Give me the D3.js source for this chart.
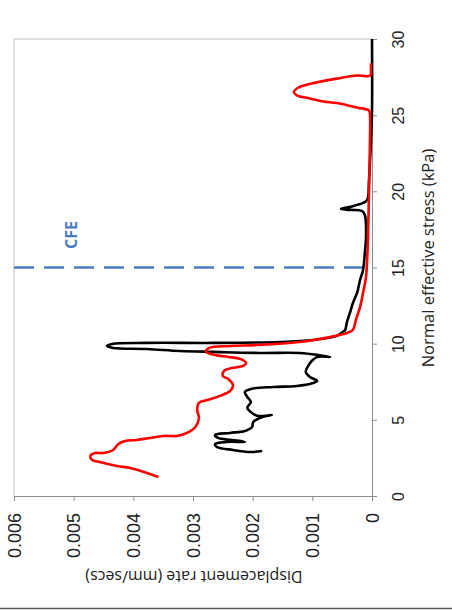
<!DOCTYPE html>
<html>
<head>
<meta charset="utf-8">
<script src="https://cdn.jsdelivr.net/npm/d3@7"></script>
<style>
  body { margin: 0; background: #fff; }
  svg { font-family: "Open Sans", "DejaVu Sans", sans-serif; }
</style>
</head>
<body>
<script>
// chart is drawn turned on its side: stress runs up the right edge, rate runs right-to-left along the bottom
var redStress = [1.25, 1.51, 1.84, 1.97, 2.23, 2.36, 2.63, 2.82, 2.82, 3.02, 3.41, 3.61, 3.68, 3.81, 3.94, 3.94,
  4.14, 4.53, 5.12, 5.65, 6.11, 6.30, 6.57, 6.89, 7.29, 7.68, 7.88, 8.21, 8.40, 8.54, 8.73, 9.00, 9.13, 9.26,
  9.46, 9.72, 9.85, 9.91, 10.11, 10.44, 10.70, 10.90, 11.56, 12.41, 13.33, 14.38, 15.30, 17.0, 20.0, 23.4,
  25.0, 25.3, 25.5, 25.8, 25.9, 26.1, 26.3, 26.5, 26.8, 27.1, 27.4, 27.6, 27.6, 27.97, 28.4];
var redRate = [3.58, 3.77, 4.05, 4.27, 4.56, 4.69, 4.72, 4.64, 4.51, 4.34, 4.25, 4.14, 3.94, 3.72, 3.50, 3.27,
  3.10, 2.96, 2.90, 2.93, 2.90, 2.76, 2.55, 2.38, 2.33, 2.41, 2.50, 2.48, 2.35, 2.16, 2.11, 2.21, 2.41, 2.63,
  2.78, 2.73, 2.38, 1.93, 1.21, 0.70, 0.42, 0.32, 0.27, 0.20, 0.15, 0.10, 0.084, 0.067, 0.05, 0.034,
  0.034, 0.05, 0.25, 0.59, 0.82, 1.04, 1.26, 1.31, 1.24, 0.99, 0.59, 0.25, 0.03, 0.017, 0.017];

var blackStress = [2.95, 2.89, 3.02, 3.22, 3.41, 3.55, 3.55, 3.68, 3.81, 4.01, 4.14, 4.27, 4.53, 4.86, 5.19,
  5.32, 5.25, 5.45, 5.78, 6.17, 6.50, 6.83, 7.03, 7.16, 7.22, 7.42, 7.55, 7.81, 8.14, 8.54, 8.86, 9.13, 9.13,
  9.26, 9.39, 9.39, 9.46, 9.52, 9.65, 9.72, 9.85, 9.98, 10.05, 10.05, 10.11, 10.24, 10.51, 10.77, 10.90, 11.42,
  12.02, 12.67, 13.33, 14.18, 14.84, 15.96, 17.0, 18.45, 18.71, 18.78, 18.84, 18.98, 19.24, 19.44, 20.75,
  23.4, 25.3, 30.0];
var blackRate = [1.84, 2.04, 2.33, 2.60, 2.63, 2.43, 2.13, 2.35, 2.58, 2.63, 2.38, 2.13, 2.01, 1.99, 1.84,
  1.68, 1.91, 2.01, 2.09, 2.03, 2.09, 2.13, 2.03, 1.66, 1.26, 0.99, 0.92, 1.04, 1.11, 1.07, 1.01, 0.92, 0.70,
  0.90, 1.21, 1.88, 2.66, 3.22, 3.77, 4.34, 4.44, 4.36, 3.77, 2.66, 1.54, 0.99, 0.59, 0.49, 0.45, 0.42,
  0.37, 0.32, 0.25, 0.20, 0.15, 0.12, 0.10, 0.12, 0.17, 0.37, 0.52, 0.37, 0.15, 0.08, 0.05,
  0.017, 0, 0];

var rateTicks = [0, 0.001, 0.002, 0.003, 0.004, 0.005, 0.006];
var stressTicks = [0, 5, 10, 15, 20, 25, 30];
var cfeStress = 15;

// rates above are in units of 0.001 mm/s
function pairs(s, r) { return s.map(function(d, i){ return {s: d, r: r[i] / 1000}; }); }

var W = 452, H = 611;
var plotL = 14, plotR = 372, plotT = 39, plotB = 496;

var svg = d3.select('body').append('svg').attr('width', W).attr('height', H);

var x = d3.scaleLinear().domain([0, 0.006]).range([plotR, plotL]);
var y = d3.scaleLinear().domain([0, 30]).range([plotB, plotT]);

// frame (left + top in light grey)
svg.append('path')
   .attr('d', 'M' + plotL + ',' + plotB + 'V' + plotT + 'H' + plotR)
   .attr('fill', 'none').attr('stroke', '#bfbfbf').attr('stroke-width', 1);

// stress axis on the right
var ax1 = svg.append('g').attr('transform', 'translate(' + plotR + ',0)')
   .call(d3.axisRight(y).tickValues(stressTicks).tickSize(5).tickFormat(d3.format('d')));
ax1.select('.domain').attr('stroke', '#8c8c8c');
ax1.selectAll('.tick line').attr('stroke', '#8c8c8c');
ax1.selectAll('.tick text')
   .attr('x', 0).attr('dy', null)
   .attr('transform', 'translate(26,0) rotate(-90)')
   .attr('text-anchor', 'middle').attr('dominant-baseline', 'central')
   .attr('font-size', 16).attr('fill', '#222');

// rate axis along the bottom
var ax2 = svg.append('g').attr('transform', 'translate(0,' + plotB + ')')
   .call(d3.axisBottom(x).tickValues(rateTicks).tickSize(5)
         .tickFormat(function(d){ return d === 0 ? '0' : d3.format('.3f')(d); }));
ax2.select('.domain').attr('stroke', '#8c8c8c');
ax2.selectAll('.tick line').attr('stroke', '#8c8c8c');
ax2.selectAll('.tick text')
   .attr('y', 0).attr('dy', null)
   .attr('transform', 'translate(0,17) rotate(-90)')
   .attr('text-anchor', 'end').attr('dominant-baseline', 'central')
   .attr('font-size', 18).attr('fill', '#222');

// CFE line
svg.append('line')
   .attr('x1', plotL).attr('x2', plotR)
   .attr('y1', y(cfeStress)).attr('y2', y(cfeStress))
   .attr('stroke', '#4a7cc6').attr('stroke-width', 2.5)
   .attr('stroke-dasharray', '20,10');

svg.append('text').text('CFE')
   .attr('transform', 'translate(71,235) rotate(-90)')
   .attr('text-anchor', 'middle').attr('dominant-baseline', 'central')
   .attr('font-size', 16).attr('font-weight', 'bold').attr('fill', '#4a7cc6');

var line = d3.line().curve(d3.curveCatmullRom.alpha(0.5))
   .x(function(d){ return x(d.r); }).y(function(d){ return y(d.s); });

svg.append('path').datum(pairs(blackStress, blackRate))
   .attr('d', line).attr('fill', 'none').attr('stroke', '#000')
   .attr('stroke-width', 2.6).attr('stroke-linejoin', 'round');

svg.append('path').datum(pairs(redStress, redRate))
   .attr('d', line).attr('fill', 'none').attr('stroke', '#ff0000')
   .attr('stroke-width', 2.6).attr('stroke-linejoin', 'round');

// axis titles
svg.append('text').text('Normal effective stress (kPa)')
   .attr('transform', 'translate(427,258) rotate(-90)')
   .attr('text-anchor', 'middle').attr('dominant-baseline', 'central')
   .attr('font-size', 16.5).attr('fill', '#222');

svg.append('text').text('Displacement rate  (mm/secs)')
   .attr('transform', 'translate(194,577) rotate(180)')
   .attr('text-anchor', 'middle').attr('dominant-baseline', 'central')
   .attr('font-size', 16).attr('fill', '#222');

// bottom edge of the image
svg.append('line').attr('x1', 0).attr('x2', W).attr('y1', 608.5).attr('y2', 608.5)
   .attr('stroke', '#555').attr('stroke-width', 1.5);
</script>
</body>
</html>
